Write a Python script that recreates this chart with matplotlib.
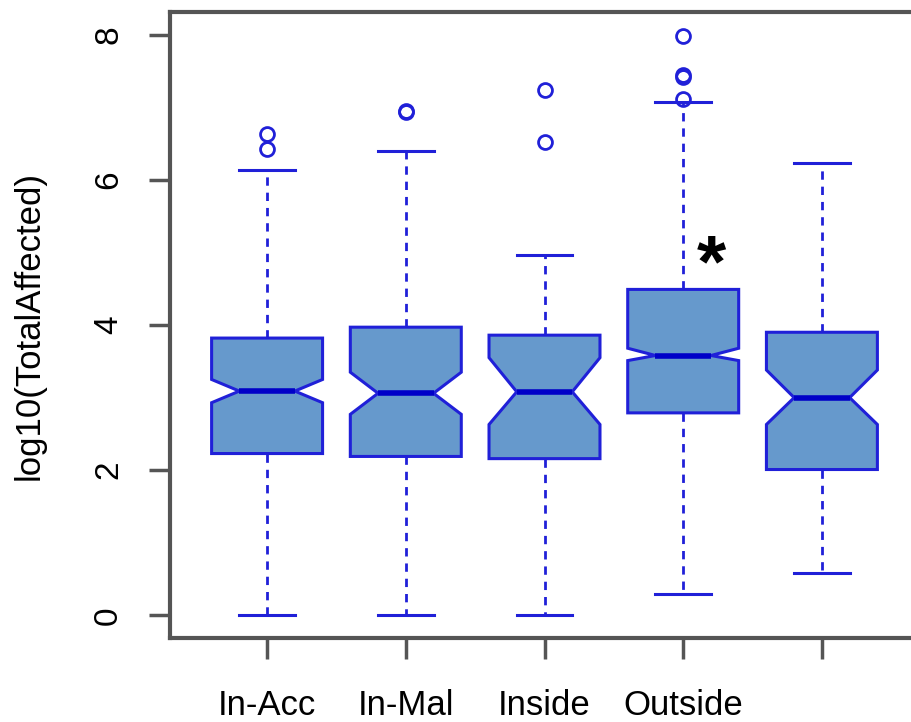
# Boxplots com entalhe, log10(TotalAffected) por grupo

import matplotlib
matplotlib.use('Agg')
import matplotlib.pyplot as plt

plt.rcParams['font.family'] = ['Liberation Sans', 'DejaVu Sans']

labels = ['In-Acc', 'In-Mal', 'Inside', 'Outside', '']
q1 = [2.23, 2.19, 2.16, 2.79, 2.01]
med = [3.09, 3.06, 3.08, 3.58, 3.00]
q3 = [3.82, 3.97, 3.86, 4.49, 3.90]
ci_lo = [2.93, 2.77, 2.63, 3.51, 2.63]
ci_hi = [3.25, 3.35, 3.55, 3.68, 3.38]
wh_lo = [0.0, 0.0, 0.0, 0.30, 0.59]
wh_hi = [6.13, 6.40, 4.96, 7.07, 6.23]
fliers = [[6.42, 6.63], [6.93, 6.95], [6.52, 7.24], [7.11, 7.41, 7.44, 7.98], []]

star_x, star_y = 4.2, 4.8

stats = []
for i in range(len(labels)):
    stats.append(dict(label=labels[i], q1=q1[i], med=med[i], q3=q3[i],
                      cilo=ci_lo[i], cihi=ci_hi[i],
                      whislo=wh_lo[i], whishi=wh_hi[i], fliers=fliers[i]))

fig = plt.figure(figsize=(9.11, 7.22), dpi=100)
ax = fig.add_axes([170/911, 1-638/722, (919-170)/911, (638-12)/722])

blue = '#2020D8'
ax.bxp(stats, shownotches=True, patch_artist=True, widths=0.8, capwidths=0.4,
       boxprops=dict(facecolor='#6699CC', edgecolor=blue, linewidth=2.2),
       medianprops=dict(color='#0000C8', linewidth=4),
       whiskerprops=dict(color=blue, linewidth=2, linestyle=(0, (3, 2.5))),
       capprops=dict(color=blue, linewidth=2.2),
       flierprops=dict(marker='o', markersize=10, markerfacecolor='none',
                       markeredgecolor=blue, markeredgewidth=2))

ax.text(star_x, star_y, '*', fontsize=54, fontweight='bold', ha='center', va='center')

ax.set_xlim(0.3, 5.7)
ax.set_ylim(-0.31, 8.31)
ax.set_yticks([0, 2, 4, 6, 8])
ax.set_yticklabels(['0', '2', '4', '6', '8'], rotation=90, va='center', fontsize=24)
ax.set_xticks(range(1, 6))
ax.set_xticklabels(labels, fontsize=25)
ax.tick_params(axis='both', length=15, width=2.5, color='#555555', pad=18)
ax.tick_params(axis='x', pad=22)
ax.set_ylabel('log10(TotalAffected)', fontsize=25, labelpad=34)
for s in ax.spines.values():
    s.set_color('#555555')
    s.set_linewidth(3)

plt.savefig('out.png')
